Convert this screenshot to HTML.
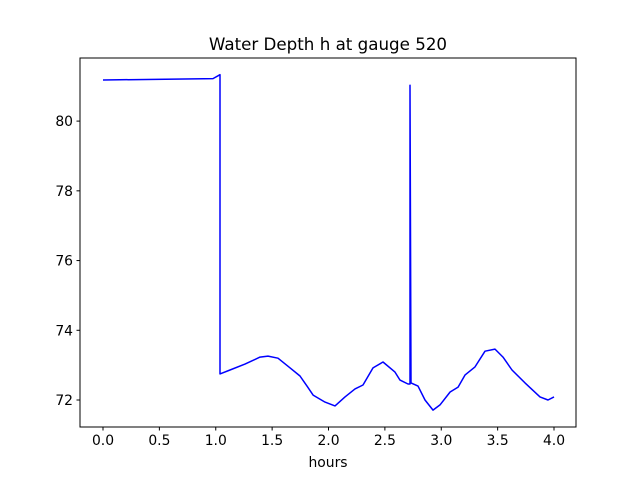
<!DOCTYPE html>
<html><head><meta charset="utf-8"><style>
html,body{margin:0;padding:0;background:#fff}
svg{display:block;font-family:"DejaVu Sans","Liberation Sans",sans-serif}
</style></head><body>
<svg id="chart" width="640" height="480" xmlns="http://www.w3.org/2000/svg"></svg>
<script>
const hours=[0,0.976,1.038,1.038,1.126,1.259,1.392,1.463,1.552,1.659,1.747,1.809,1.863,1.969,2.058,2.146,2.235,2.306,2.395,2.483,2.590,2.634,2.705,2.723,2.723,2.732,2.794,2.856,2.927,2.989,3.078,3.149,3.211,3.299,3.388,3.477,3.548,3.627,3.743,3.876,3.947,4.0];
const depth=[81.18,81.22,81.33,72.75,72.86,73.03,73.23,73.26,73.2,72.92,72.69,72.4,72.14,71.94,71.83,72.09,72.32,72.43,72.92,73.09,72.8,72.57,72.46,72.46,81.03,72.49,72.4,72.0,71.71,71.86,72.23,72.37,72.72,72.95,73.4,73.46,73.23,72.86,72.49,72.09,72.0,72.09];
const xTicks=[0,0.5,1,1.5,2,2.5,3,3.5,4];
const xTickLabels=["0.0","0.5","1.0","1.5","2.0","2.5","3.0","3.5","4.0"];
const yTicks=[72,74,76,78,80];
const yTickLabels=["72","74","76","78","80"];
const L=80,R=576,T=58,B=427;
const x0=-0.204,x1=4.195,y0=71.226,y1=81.81;
const sx=v=>L+(v-x0)/(x1-x0)*(R-L);
const sy=v=>B-(v-y0)/(y1-y0)*(B-T);
const svg=document.getElementById('chart');
const NS='http://www.w3.org/2000/svg';
function mk(tag,attrs,name,parent){const e=document.createElementNS(NS,tag);for(const k in attrs)e.setAttribute(k,attrs[k]);


(parent||svg).appendChild(e);return e;}
const pts=hours.map((h,i)=>sx(h).toFixed(1)+','+sy(depth[i]).toFixed(1)).join(' ');
mk('polyline',{points:pts,fill:'none',stroke:'#0000ff','stroke-width':1.5,'stroke-linejoin':'round'},'depth-line');
mk('rect',{x:L,y:T,width:R-L,height:B-T,fill:'none',stroke:'#000','stroke-width':1},'plot-frame');
xTicks.forEach((v,i)=>{const x=sx(v);
mk('line',{x1:x,x2:x,y1:B,y2:B+3.5,stroke:'#000'},'x-tick');
const t=mk('text',{x:x,y:B+18,'font-size':13.9,'text-anchor':'middle'},'x-tick-label');t.textContent=xTickLabels[i];});
yTicks.forEach((v,i)=>{const y=sy(v);
mk('line',{x1:L-3.5,x2:L,y1:y,y2:y,stroke:'#000'},'y-tick');
const t=mk('text',{x:L-7,y:y+5,'font-size':13.9,'text-anchor':'end'},'y-tick-label');t.textContent=yTickLabels[i];});
const ti=mk('text',{x:(L+R)/2,y:50,'font-size':16.7,'text-anchor':'middle'},'chart-title');ti.textContent='Water Depth h at gauge 520';
const xl=mk('text',{x:(L+R)/2,y:467,'font-size':13.9,'text-anchor':'middle'},'x-axis-title');xl.textContent='hours';
</script>
</body></html>
